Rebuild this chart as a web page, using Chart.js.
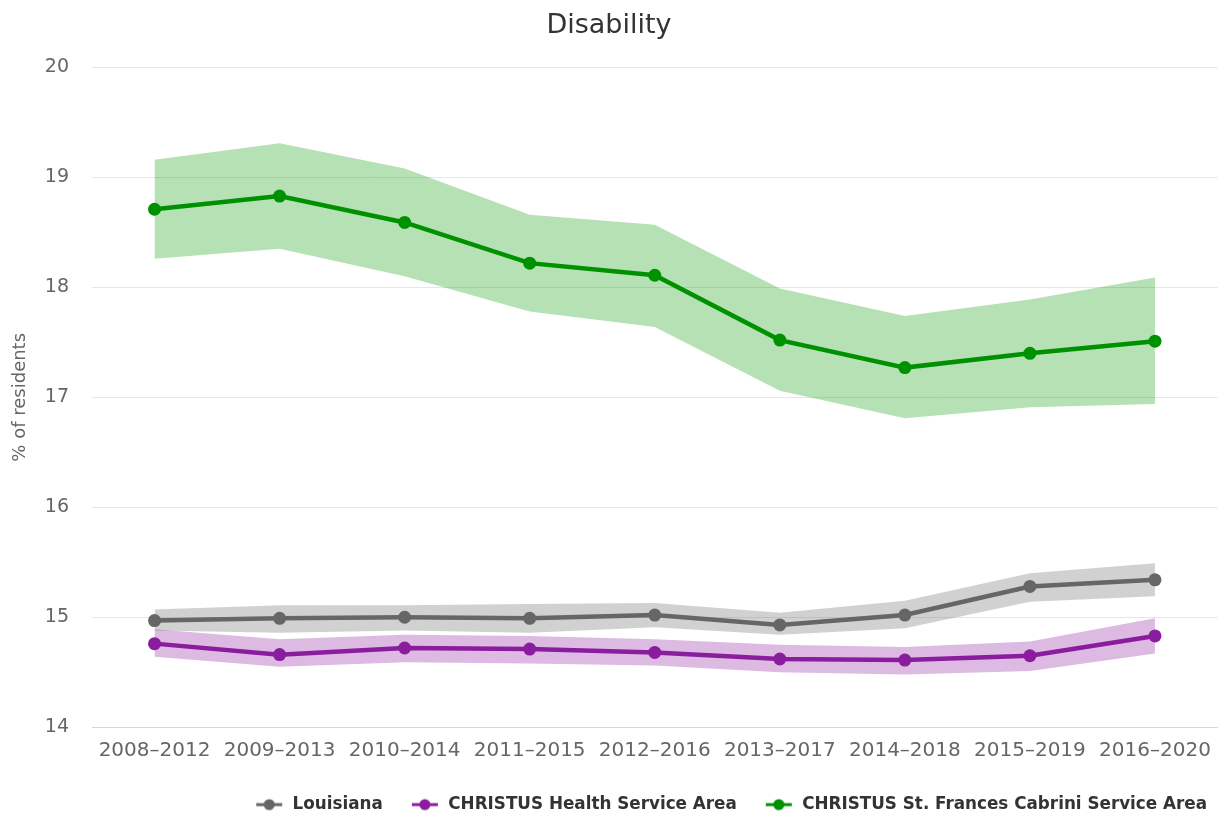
<!DOCTYPE html>
<html>
<head>
<meta charset="utf-8">
<script src="https://cdn.jsdelivr.net/npm/chart.js@4"></script>
<style>
  html, body { margin: 0; padding: 0; background: #fff; }
  #wrap { width: 1224px; height: 817px; }
</style>
</head>
<body>
<div id="wrap"><canvas id="chart" width="1224" height="817"></canvas></div>
<script>
// ── Data ─────────────────────────────────────────────────────────────────────
const periods = ['2008–2012', '2009–2013', '2010–2014', '2011–2015', '2012–2016',
                 '2013–2017', '2014–2018', '2015–2019', '2016–2020']

const louisiana     = [14.97, 14.99, 15.00, 14.99, 15.02, 14.93, 15.02, 15.28, 15.34]
const louisianaHigh = [15.07, 15.11, 15.11, 15.12, 15.13, 15.04, 15.15, 15.40, 15.49]
const louisianaLow  = [14.88, 14.86, 14.88, 14.86, 14.91, 14.84, 14.90, 15.14, 15.19]

const healthArea     = [14.76, 14.66, 14.72, 14.71, 14.68, 14.62, 14.61, 14.65, 14.83]
const healthAreaHigh = [14.89, 14.80, 14.84, 14.83, 14.80, 14.75, 14.73, 14.78, 14.99]
const healthAreaLow  = [14.64, 14.55, 14.59, 14.58, 14.56, 14.50, 14.48, 14.51, 14.67]

const cabrini     = [18.71, 18.83, 18.59, 18.22, 18.11, 17.52, 17.27, 17.40, 17.51]
const cabriniHigh = [19.16, 19.31, 19.08, 18.66, 18.57, 17.99, 17.74, 17.89, 18.09]
const cabriniLow  = [18.26, 18.35, 18.10, 17.78, 17.64, 17.06, 16.81, 16.91, 16.94]

const yTicks = [14, 15, 16, 17, 18, 19, 20]

// ── Styling ──────────────────────────────────────────────────────────────────
const FONT = "'DejaVu Sans', sans-serif"
const SYMBOL_LEAD = 18   // blank space before each legend symbol (item spacing)

// Highcharts-like legend symbol: short line with a dot in the middle
function legendSymbol(color) {
    const c = document.createElement('canvas')
    c.width = SYMBOL_LEAD + 26 + 2
    c.height = 14
    const g = c.getContext('2d')
    g.strokeStyle = color
    g.lineWidth = 3
    g.beginPath()
    g.moveTo(SYMBOL_LEAD, 7)
    g.lineTo(SYMBOL_LEAD + 26, 7)
    g.stroke()
    g.fillStyle = color
    g.beginPath()
    g.arc(SYMBOL_LEAD + 13, 7, 5.5, 0, Math.PI * 2)
    g.fill()
    return c
}

function lineSet(label, data, color) {
    return {
        label, data,
        borderColor: color,
        backgroundColor: color,
        borderWidth: 4.5,
        pointRadius: 6.5,
        pointHoverRadius: 6.5,
        pointBorderWidth: 0,
        pointBackgroundColor: color,
        pointStyle: 'circle',
        legendSymbol: legendSymbol(color),
        tension: 0,
        fill: false,
        order: 0,
    }
}

function bandSet(data, fill, color) {
    return {
        label: '_band',
        data,
        borderWidth: 0,
        borderColor: 'transparent',
        backgroundColor: color,
        pointRadius: 0,
        pointHoverRadius: 0,
        tension: 0,
        fill,
        order: 1,
    }
}

const datasets = [
    lineSet('Louisiana', louisiana, '#666666'),
    lineSet('CHRISTUS Health Service Area', healthArea, '#8a1c9e'),
    lineSet('CHRISTUS St. Frances Cabrini Service Area', cabrini, '#009100'),
]
// bands: upper fills down to the following (lower) dataset
datasets.push(bandSet(louisianaHigh, '+1', 'rgba(102,102,102,0.30)'))
datasets.push(bandSet(louisianaLow, false, 'transparent'))
datasets.push(bandSet(healthAreaHigh, '+1', 'rgba(138,28,158,0.30)'))
datasets.push(bandSet(healthAreaLow, false, 'transparent'))
datasets.push(bandSet(cabriniHigh, '+1', 'rgba(0,150,0,0.29)'))
datasets.push(bandSet(cabriniLow, false, 'transparent'))

new Chart(document.getElementById('chart'), {
    type: 'line',
    data: { labels: periods, datasets },
    options: {
        responsive: false,
        animation: false,
        events: [],
        layout: { padding: { left: 0, right: 6, top: 0, bottom: -6 } },
        plugins: {
            title: {
                display: true,
                text: 'Disability',
                color: '#333333',
                font: { family: FONT, size: 27, weight: 'normal' },
                padding: { top: 10, bottom: 25 },
            },
            legend: {
                position: 'bottom',
                align: 'end',
                labels: {
                    filter: (item) => item.text !== '_band',
                    usePointStyle: true,
                    pointStyleWidth: SYMBOL_LEAD + 28,
                    padding: 11,
                    color: '#333333',
                    font: { family: FONT, size: 16.8, weight: 'bold' },
                    generateLabels(chart) {
                        return chart.data.datasets.map((ds, i) => ({
                            text: ds.label,
                            fontColor: '#333333',
                            pointStyle: ds.legendSymbol || 'circle',
                            fillStyle: ds.borderColor,
                            strokeStyle: ds.borderColor,
                            lineWidth: 0,
                            hidden: false,
                            datasetIndex: i,
                        }))
                    },
                },
            },
            tooltip: { enabled: false },
        },
        scales: {
            x: {
                offset: true,
                grid: { display: false, drawTicks: false },
                border: { display: true, color: '#ccd6eb', width: 1 },
                ticks: {
                    color: '#666666',
                    padding: 12,
                    maxRotation: 0,
                    font: { family: FONT, size: 20 },
                },
                afterFit: (s) => { s.height = 58 },
            },
            y: {
                min: 14,
                max: 20,
                afterBuildTicks: (s) => { s.ticks = yTicks.map((v) => ({ value: v })) },
                grid: { color: '#e6e6e6', lineWidth: 1, drawTicks: false },
                border: { display: false },
                ticks: {
                    color: '#666666',
                    padding: 23,
                    font: { family: FONT, size: 19 },
                },
                title: {
                    display: true,
                    text: '% of residents',
                    color: '#666666',
                    font: { family: FONT, size: 18 },
                    padding: { top: 10, bottom: 0 },
                },
                afterFit: (s) => { s.width = 92 },
            },
        },
    },
})
</script>
</body>
</html>
